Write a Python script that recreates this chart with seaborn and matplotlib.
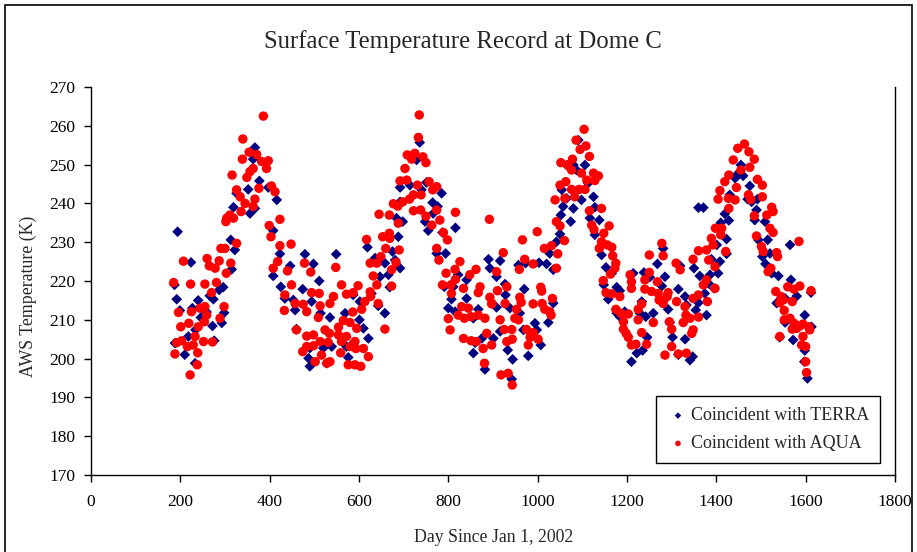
import matplotlib
matplotlib.use("Agg")
import matplotlib.pyplot as plt
from matplotlib.patches import Rectangle
import seaborn as sns

# values (day since Jan 1 2002, AWS temperature in K)
terra_day = [194, 224, 187, 192, 199, 227, 240, 246, 259, 274, 266, 287, 296, 298, 293, 272, 234, 218, 188, 210,
             233, 276, 315, 313, 322, 319, 326, 352, 367, 363, 377, 397, 416, 367, 356, 408, 423, 408, 446, 425,
             434, 453, 460, 457,
             479, 498, 549, 511, 474, 494, 514, 535, 569, 587, 602, 601, 610, 621, 587, 572, 539, 520, 490, 487,
             490, 576, 528, 619, 636, 658, 647, 666, 669, 628, 643, 658, 675, 688, 681, 692, 684, 698, 692, 692,
             714, 740, 751, 736, 729, 748, 755, 765, 766,
             785, 776, 816, 787, 794, 774, 890, 916, 893, 908, 822, 841, 791, 811, 841, 807, 800, 815, 867, 856,
             908, 928, 938, 960, 927, 970, 994, 998, 968, 916, 901, 875, 860, 856, 882, 933, 944, 942, 979, 1007,
             957, 973, 1003, 1020, 1035, 1027, 1042, 1050, 1052, 1057, 1065, 1054, 1065, 1024, 1035,
             1091, 1080, 1106, 1087, 1113, 1125, 1098, 1080, 1074, 1128, 1117, 1138, 1128, 1143, 1153, 1148, 1166,
             1177, 1184, 1158, 1177, 1184, 1195, 1233, 1229, 1242, 1259, 1214, 1238, 1251, 1268, 1285, 1278, 1285,
             1292, 1281, 1315, 1330, 1333, 1354, 1360, 1350, 1363, 1319, 1360, 1371, 1210, 1222, 1235, 1245, 1302,
             1330, 1315, 1341, 1347, 1296,
             1374, 1378, 1382, 1386, 1404, 1389, 1401, 1423, 1410, 1419, 1428, 1408, 1395, 1423, 1430, 1442, 1445,
             1455, 1460, 1475, 1470, 1479, 1492, 1490, 1486, 1509, 1494, 1515, 1503, 1520, 1510, 1524, 1539, 1565,
             1567, 1554, 1580, 1535, 1554, 1572, 1598, 1613, 1598, 1597, 1604, 1612, 1542]
terra_temp = [232.7, 224.8, 219.0, 215.3, 212.4, 213.0, 215.0, 210.6, 212.0, 215.3, 216.2, 217.7, 218.4, 211.8,
              209.2, 208.4, 207.4, 205.7, 204.0, 201.0, 198.8, 204.6, 223.0, 230.6, 228.0, 239.0, 242.6, 243.6,
              254.4, 251.4, 245.8, 244.1, 240.9, 238.7, 237.4, 233.0, 227.0, 221.3, 223.9, 218.5, 215.5, 215.1,
              207.6, 212.5,
              226.9, 224.4, 226.9, 220.0, 217.9, 214.7, 211.7, 210.6, 211.7, 216.4, 214.7, 210.0, 207.8, 205.2,
              204.0, 203.1, 203.1, 202.7, 202.7, 200.1, 198.0, 200.3, 198.8, 228.7, 225.9, 224.6, 221.1, 221.6,
              218.4, 216.8, 213.6, 211.7, 227.6, 231.4, 225.4, 223.3, 236.2, 235.3, 240.4, 244.1, 244.7, 243.5,
              245.4, 255.7, 251.2, 235.3, 233.0, 240.2, 237.4,
              242.6, 239.2, 233.7, 232.5, 227.1, 227.1, 225.6, 225.2, 223.3, 221.1, 221.6, 220.3, 218.5, 218.5,
              215.5, 215.3, 213.0, 212.1, 212.7, 210.4, 213.2, 216.4, 213.0, 211.7, 219.2, 217.9, 209.1, 207.4,
              207.4, 207.0, 205.2, 205.2, 204.1, 201.4, 197.2, 202.2, 199.8, 194.7, 200.7, 203.5, 224.1, 224.6,
              224.7, 224.4, 222.9, 227.1, 230.1, 232.1, 237.0, 239.2, 241.3, 243.5, 249.9, 209.3, 214.3,
              256.3, 249.9, 249.9, 248.6, 245.2, 241.7, 240.9, 238.7, 235.3, 239.0, 236.2, 235.7, 231.9, 226.7,
              223.5, 219.0, 222.0, 218.4, 217.5, 215.3, 211.7, 210.8, 212.1, 214.7, 211.7, 210.8, 211.7, 222.0,
              222.2, 221.0, 224.4, 221.1, 218.7, 215.3, 212.7, 228.4, 217.9, 216.0, 213.8, 212.5, 214.4, 223.3,
              221.3, 223.9, 238.9, 238.9, 199.2, 201.4, 202.1, 205.5, 205.5, 205.0, 201.0, 199.6, 200.5, 209.3,
              216.8, 211.2, 219.4, 221.6, 222.0, 225.6, 229.3, 230.8, 235.0, 237.3, 235.6, 225.0, 218.1, 227.0,
              242.2, 246.5, 247.3, 249.9, 247.1, 244.5, 241.1, 240.4, 241.1, 238.3, 235.7, 235.3, 230.6, 230.6,
              226.3, 227.1, 224.4, 222.0, 221.3, 229.3, 220.3, 215.5, 216.1, 214.3, 209.3, 204.8, 211.2, 208.2,
              202.1, 199.2, 194.9, 217.0, 205.5]

aqua_day = [386, 340, 354, 339, 371, 382, 397, 393, 363, 356, 349, 316, 376, 404, 412, 326, 334, 367, 345, 363,
            336, 311, 304, 302, 319, 423, 399, 403, 423, 448, 326, 300, 291, 260, 207, 287, 265, 313, 278, 303,
            185, 223, 255, 281, 270, 408, 418, 440, 449, 434, 457, 433, 196, 225, 255, 298, 244, 259, 289, 219,
            201, 254, 240, 233, 252, 272, 192, 203, 216, 229, 188, 239, 238, 222, 460,
            735, 733, 708, 725, 743, 750, 718, 703, 692, 707, 731, 757, 765, 722, 713, 739, 698, 677, 687, 722,
            738, 750, 763, 668, 645, 688, 653, 668, 669, 617, 660, 690, 649, 640, 625, 683, 673, 632, 640, 673,
            625, 626, 613, 606, 643, 658, 598, 587, 561, 572, 543, 535, 511, 494, 513, 475, 483, 509, 478, 492,
            548, 586, 565, 580, 554, 595, 524, 534, 498, 483, 554, 572, 513, 531, 561, 591, 580, 498, 483, 610,
            593, 474, 516, 559, 621, 502, 535, 528, 576, 591, 604,
            774, 774, 816, 781, 892, 789, 798, 774, 779, 966, 999, 1015, 1031, 1060, 1042, 1050, 1039, 1061, 1050,
            1063, 1052, 1067, 923, 971, 990, 1045, 1042, 959, 826, 815, 862, 848, 795, 816, 787, 806, 807, 834,
            867, 871, 908, 910, 893, 898, 931, 927, 960, 963, 953, 949, 957, 1007, 1009, 990, 1010, 1016, 1027,
            1030, 1033, 830, 845, 822, 836, 851, 867, 882, 800, 897, 916, 925, 942, 975, 990, 983, 979, 1001,
            804, 834, 851, 863, 886, 897, 878, 931, 943, 881, 918, 934, 943,
            1104, 1086, 1095, 1108, 1116, 1078, 1076, 1098, 1125, 1136, 1110, 1128, 1076, 1093, 1106, 1083, 1143,
            1116, 1121, 1126, 1160, 1148, 1143, 1138, 1156, 1166, 1168, 1175, 1173, 1163, 1147, 1153, 1166, 1184,
            1175, 1186, 1192, 1192, 1198, 1203, 1210, 1220, 1233, 1244, 1203, 1225, 1225, 1233, 1259, 1207, 1210,
            1210, 1240, 1250, 1240, 1255, 1268, 1270, 1272, 1281, 1292, 1290, 1278, 1250, 1281, 1310, 1319, 1311,
            1330, 1332, 1295, 1300, 1326, 1341, 1348, 1345, 1300, 1285, 1333, 1315, 1360, 1348, 1360, 1371, 1348,
            1360,
            1463, 1448, 1473, 1438, 1485, 1455, 1475, 1428, 1419, 1492, 1503, 1445, 1408, 1404, 1427, 1442, 1472,
            1503, 1477, 1428, 1485, 1524, 1513, 1527, 1398, 1412, 1410, 1389, 1393, 1490, 1520, 1527, 1585, 1378,
            1421, 1501, 1505, 1535, 1537, 1383, 1397, 1522, 1516, 1378, 1397, 1380, 1533, 1545, 1550, 1542, 1560,
            1574, 1587, 1570, 1612, 1552, 1552, 1565, 1574, 1587, 1594, 1607, 1609, 1570, 1580, 1542, 1594, 1591,
            1600, 1600, 1602]
aqua_temp = [262.5, 256.6, 253.2, 251.4, 252.6, 250.8, 251.0, 249.0, 249.0, 248.2, 246.7, 247.3, 243.9, 244.5,
             243.0, 243.5, 241.7, 241.1, 240.0, 239.2, 237.9, 237.0, 236.2, 235.3, 236.2, 235.9, 234.3, 231.4,
             229.1, 229.5, 229.7, 228.4, 228.4, 225.8, 225.1, 225.2, 223.9, 224.6, 223.3, 222.0, 219.6, 219.2,
             219.2, 219.6, 217.0, 223.3, 225.0, 222.6, 219.0, 216.4, 214.2, 212.4, 211.9, 212.1, 213.4, 213.4,
             213.0, 211.2, 210.4, 209.1, 208.2, 209.5, 208.2, 205.7, 204.4, 204.3, 204.1, 204.6, 203.1, 203.5,
             201.2, 201.5, 198.4, 195.8, 207.4,
             262.8, 257.0, 252.5, 252.9, 252.0, 250.5, 251.4, 249.0, 245.8, 246.0, 244.7, 245.6, 243.5, 242.2,
             241.1, 242.2, 240.4, 239.9, 239.3, 238.1, 238.3, 236.7, 234.4, 237.0, 237.2, 234.9, 231.4, 232.3,
             231.0, 230.7, 228.4, 228.0, 226.3, 224.6, 224.6, 224.8, 222.9, 221.3, 219.0, 218.7, 217.2, 216.0,
             214.7, 212.7, 214.2, 207.6, 218.8, 217.0, 219.0, 216.6, 216.0, 214.2, 216.8, 217.0, 213.6, 214.0,
             212.1, 210.6, 224.6, 222.3, 223.5, 212.0, 209.8, 209.3, 208.1, 207.8, 207.4, 206.5, 206.1, 205.8,
             206.1, 205.7, 204.4, 204.2, 204.4, 204.4, 203.1, 203.3, 203.1, 202.6, 202.6, 201.8, 200.9, 201.5,
             200.5, 199.2, 199.2, 198.8, 198.4, 198.4, 198.0,
             244.3, 238.3, 237.7, 235.7, 235.9, 232.5, 230.6, 228.4, 225.4, 230.6, 232.7, 228.4, 229.1, 230.4,
             235.3, 234.2, 240.9, 241.3, 244.7, 245.6, 250.5, 249.9, 227.3, 225.6, 224.4, 227.0, 223.3, 223.0,
             225.0, 223.0, 223.0, 221.6, 222.0, 220.4, 219.0, 219.0, 216.8, 218.1, 217.0, 218.5, 222.4, 217.5,
             215.8, 214.2, 218.5, 214.2, 215.8, 214.5, 212.7, 210.4, 210.0, 218.4, 217.4, 214.1, 214.2, 212.7,
             212.1, 211.2, 215.5, 213.4, 213.0, 211.2, 210.4, 210.8, 211.2, 210.4, 210.3, 214.1, 210.0, 207.5,
             207.5, 207.5, 206.7, 205.5, 203.5, 205.0, 207.4, 205.2, 204.6, 204.4, 206.5, 203.5, 202.6, 204.4,
             205.0, 198.8, 195.8, 196.2, 193.2,
             259.1, 256.3, 253.9, 254.8, 252.1, 251.4, 248.6, 247.8, 247.8, 247.1, 246.0, 245.9, 243.6, 243.6,
             243.6, 241.7, 238.7, 238.1, 234.4, 233.3, 234.2, 232.3, 230.1, 228.4, 229.3, 228.7, 226.5, 224.6,
             223.3, 221.8, 220.1, 217.0, 216.7, 216.0, 212.7, 211.7, 209.5, 207.6, 206.5, 205.5, 203.5, 203.7,
             206.7, 203.7, 211.5, 212.7, 210.0, 214.1, 209.3, 221.6, 219.8, 218.1, 220.3, 222.2, 217.9, 217.3,
             219.8, 216.8, 215.1, 214.2, 217.0, 216.0, 229.7, 226.7, 226.5, 224.6, 222.9, 214.7, 213.4, 211.2,
             209.5, 207.6, 209.3, 210.4, 207.4, 206.5, 203.1, 200.9, 201.4, 201.2, 216.4, 215.5, 210.7, 219.0,
             225.6, 227.8,
             255.3, 254.2, 253.3, 251.2, 251.4, 248.6, 249.3, 247.3, 245.6, 246.2, 244.7, 244.1, 243.3, 241.1,
             241.3, 240.9, 242.2, 241.7, 241.0, 238.7, 236.8, 239.0, 237.0, 237.9, 233.6, 233.6, 231.9, 231.0,
             229.3, 231.6, 233.6, 232.5, 230.2, 228.0, 227.6, 228.9, 227.6, 227.3, 226.3, 225.4, 223.7, 223.3,
             222.4, 220.3, 218.1, 214.7, 217.3, 216.0, 215.1, 214.4, 218.5, 217.9, 218.7, 214.7, 217.5, 212.4,
             210.0, 210.4, 209.1, 208.4, 208.9, 208.2, 207.4, 207.6, 207.8, 205.7, 205.7, 203.5, 203.1, 199.2,
             196.4]

x_ticks = list(range(0, 1801, 200))
y_ticks = list(range(170, 271, 10))

sns.set_theme(style="white")
plt.rcParams['font.family'] = ['Liberation Serif', 'DejaVu Serif']

fig = plt.figure(figsize=(9.17, 5.52), dpi=100)
ax = fig.add_axes([0.0992, 0.1395, 0.8768, 0.7029])

sns.scatterplot(x=terra_day, y=terra_temp, marker='D', color='#000080', s=30, edgecolor='none',
                linewidth=0, label='Coincident with TERRA', ax=ax, zorder=2)
sns.scatterplot(x=aqua_day, y=aqua_temp, marker='o', color='#ff0000', s=46, edgecolor='none',
                linewidth=0, label='Coincident with AQUA', ax=ax, zorder=3)

ax.set_xlim(0, 1800)
ax.set_ylim(170, 270)
ax.set_xticks(x_ticks)
ax.set_yticks(y_ticks)
ax.tick_params(axis='both', direction='out', length=5, width=1, color='black',
               labelsize=12.5, labelcolor='black', bottom=True, left=True, pad=6)
ax.tick_params(axis='x', pad=9)
ax.set_xlabel('')
ax.set_ylabel('')
for side in ['left', 'bottom', 'right']:
    ax.spines[side].set_color('black')
    ax.spines[side].set_linewidth(1)
ax.spines['top'].set_visible(False)

fig.text(463 / 917, 1 - 42 / 552, 'Surface Temperature Record at Dome C', ha='center', va='center', fontsize=17.8)
fig.text(494 / 917, 1 - 538 / 552, 'Day Since Jan 1, 2002', ha='center', va='center', fontsize=12.8)
fig.text(28 / 917, 1 - 296 / 552, 'AWS Temperature (K)', ha='center', va='center', rotation=90, fontsize=12.8)

leg = ax.legend(loc='lower right', bbox_to_anchor=(0.981, 0.031), borderaxespad=0, frameon=True,
                fancybox=False, edgecolor='black', framealpha=1, fontsize=13, handletextpad=0.1,
                handlelength=1.2, borderpad=0.6, labelspacing=0.6, markerscale=0.6)
leg.get_frame().set_linewidth(1)

fig.patches.append(Rectangle((5 / 917, -0.05), 907 / 917, 1 - 5 / 552 + 0.05, transform=fig.transFigure,
                             fill=False, edgecolor='black', linewidth=1.2))

fig.savefig('out.png', dpi=100)
